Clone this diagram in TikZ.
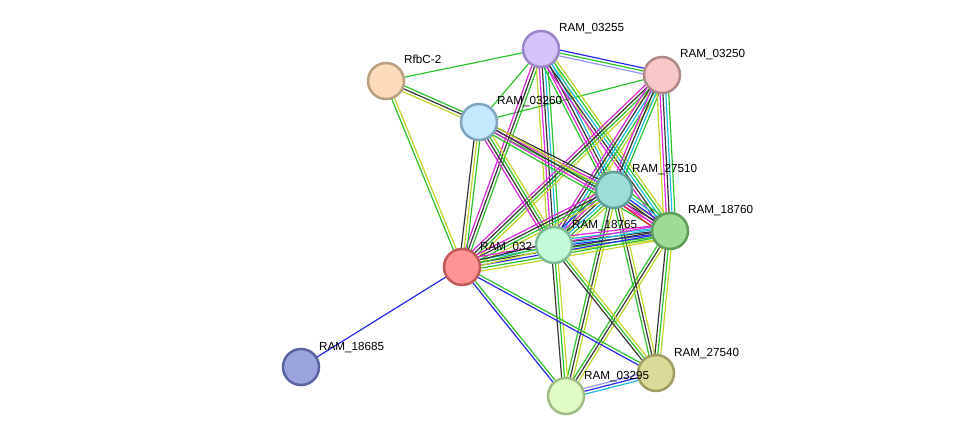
\documentclass[tikz,border=0pt]{standalone}
\usepackage{fontspec}
\setmainfont{Liberation Sans}
\usetikzlibrary{calc}
\definecolor{sG}{RGB}{45,195,45}
\definecolor{sY}{RGB}{195,212,40}
\definecolor{sK}{RGB}{55,55,55}
\definecolor{sM}{RGB}{222,40,222}
\definecolor{sC}{RGB}{30,190,222}
\definecolor{sB}{RGB}{40,40,240}
\definecolor{sR}{RGB}{240,30,50}
\definecolor{sL}{RGB}{150,150,250}
\pgfdeclarelayer{bg}
\pgfdeclarelayer{lbl}
\pgfsetlayers{bg,lbl,main}
\tikzset{
  edgeline/.style={line width=1.2pt},
  snode/.style={circle, line width=2.5pt, minimum size=36pt, inner sep=0pt},
  slabel/.style={anchor=base west, inner sep=0pt, font=\fontsize{11.7}{14}\selectfont, text=black}
}
\newcommand{\sedge}[3]{%
  \def\nn{0}%
  \foreach \ec in {#3}{\xdef\nn{\the\numexpr\nn+1\relax}}%
  \foreach \ec [count=\ei] in {#3}{%
    \pgfmathsetmacro{\off}{(\ei-1-(\nn-1)/2)*2.9}%
    \draw[edgeline,color=\ec] ($(#1.center)!\off pt!90:(#2.center)$) -- ($(#2.center)!\off pt!-90:(#1.center)$);
  }%
}
\newcommand{\slab}[2]{\node[slabel] (l#1) at ($(#1.center)+(18,-17)$) {#2};}
\begin{document}
\begin{tikzpicture}[x=1pt,y=-1pt]
\useasboundingbox (0,0) rectangle (975,441);
% nodes
\node[snode, fill={rgb,255:red,212;green,196;blue,250}, draw={rgb,255:red,154;green,134;blue,200}] (a3255) at (541,49) {};
\node[snode, fill={rgb,255:red,248;green,200;blue,200}, draw={rgb,255:red,176;green,136;blue,136}] (a3250) at (662,75) {};
\node[snode, fill={rgb,255:red,253;green,220;blue,188}, draw={rgb,255:red,184;green,160;blue,128}] (rfbc) at (386,81) {};
\node[snode, fill={rgb,255:red,196;green,232;blue,252}, draw={rgb,255:red,127;green,165;blue,190}] (a3260) at (479,122) {};
\node[snode, fill={rgb,255:red,156;green,221;blue,213}, draw={rgb,255:red,95;green,160;blue,153}] (a27510) at (614,190) {};
\node[snode, fill={rgb,255:red,158;green,220;blue,150}, draw={rgb,255:red,94;green,158;blue,90}] (a18760) at (670,231) {};
\node[snode, fill={rgb,255:red,196;green,250;blue,216}, draw={rgb,255:red,125;green,187;blue,149}] (a18765) at (554,245) {};
\node[snode, fill={rgb,255:red,255;green,148;blue,148}, draw={rgb,255:red,192;green,90;blue,90}] (a032) at (462,267) {};
\node[snode, fill={rgb,255:red,155;green,164;blue,223}, draw={rgb,255:red,90;green,100;blue,160}] (a18685) at (301,367) {};
\node[snode, fill={rgb,255:red,220;green,218;blue,152}, draw={rgb,255:red,160;green,158;blue,96}] (a27540) at (656,373) {};
\node[snode, fill={rgb,255:red,224;green,252;blue,196}, draw={rgb,255:red,160;green,190;blue,134}] (a3295) at (566,396) {};
% edges
\begin{pgfonlayer}{bg}
\sedge{rfbc}{a3255}{sG}
\sedge{rfbc}{a3260}{sY,sK,sG}
\sedge{rfbc}{a032}{sG,sY}
\sedge{a3255}{a3250}{sL,sG,sB}
\sedge{a3255}{a3260}{sG}
\sedge{a3260}{a3250}{sG}
\sedge{a3255}{a032}{sM,sK,sG}
\sedge{a3255}{a18765}{sY,sM,sK,sC,sG}
\sedge{a3255}{a27510}{sG,sM,sK,sC,sY}
\sedge{a3255}{a18760}{sM,sK,sC,sG,sY}
\sedge{a3250}{a032}{sM,sK,sG,sY}
\sedge{a3250}{a18765}{sM,sK,sC,sG,sY}
\sedge{a3250}{a27510}{sM,sK,sC,sG}
\sedge{a3250}{a18760}{sY,sM,sK,sC,sG}
\sedge{a3260}{a27510}{sG,sM,sK}
\sedge{a3260}{a18760}{sG,sM,sK,sY}
\sedge{a3260}{a032}{sK,sY,sG}
\sedge{a3260}{a18765}{sM,sK,sG,sY}
\sedge{a27510}{a18760}{sR,sM,sK,sB,sC,sG}
\sedge{a27510}{a18765}{sB,sM,sK,sC,sG,sY}
\sedge{a27510}{a032}{sM,sK,sG,sY}
\sedge{a27510}{a3295}{sG,sK,sY}
\sedge{a27510}{a27540}{sG,sK,sY}
\sedge{a18760}{a18765}{sM,sC,sK,sB,sG,sY}
\sedge{a18760}{a032}{sM,sC,sK,sB,sG,sY}
\sedge{a18760}{a3295}{sG,sK,sY}
\sedge{a18760}{a27540}{sK,sG,sY}
\sedge{a18765}{a032}{sK,sG,sY}
\sedge{a18765}{a3295}{sK,sG,sY}
\sedge{a18765}{a27540}{sK,sG,sY}
\sedge{a032}{a18685}{sB}
\sedge{a032}{a3295}{sB,sG}
\sedge{a032}{a27540}{sB,sG}
\sedge{a3295}{a27540}{sC,sB,sL}
\end{pgfonlayer}
% label partly hidden under a node
\begin{pgfonlayer}{lbl}
\slab{a032}{RAM\_032}
\end{pgfonlayer}
% labels above nodes
\slab{a3255}{RAM\_03255}
\slab{a3250}{RAM\_03250}
\slab{rfbc}{RfbC-2}
\slab{a3260}{RAM\_03260}
\slab{a27510}{RAM\_27510}
\slab{a18760}{RAM\_18760}
\slab{a18765}{RAM\_18765}
\slab{a18685}{RAM\_18685}
\slab{a27540}{RAM\_27540}
\slab{a3295}{RAM\_03295}
\end{tikzpicture}
\end{document}
